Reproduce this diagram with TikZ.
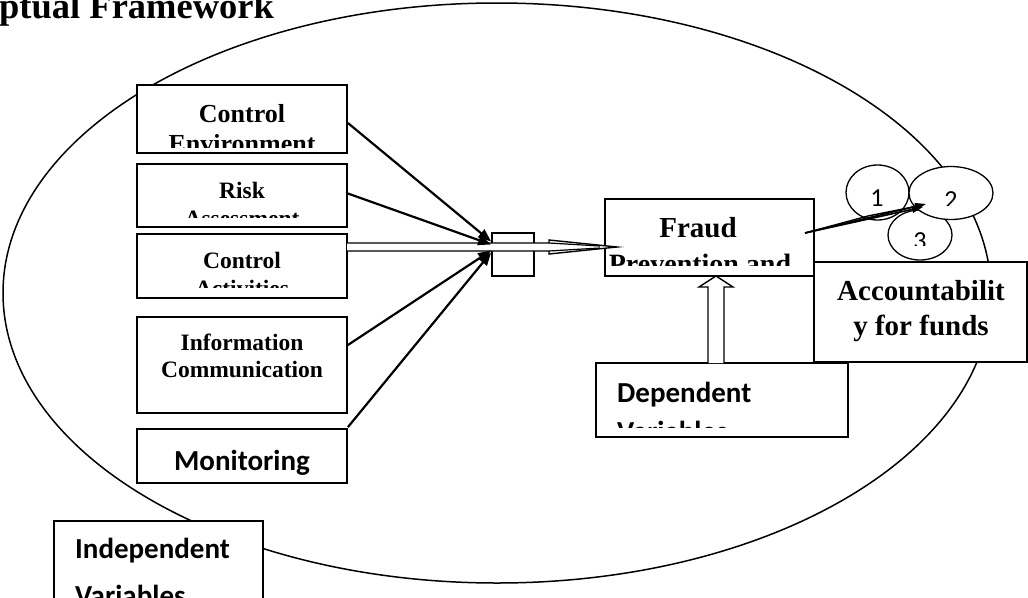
\documentclass[tikz,border=0pt]{standalone}
\usepackage{fontspec}
\setmainfont{Liberation Serif}
\newfontfamily\calfont{Carlito}
\usetikzlibrary{arrows.meta,shapes.geometric}
\newcommand\tfs[1]{\bfseries\fontsize{#1}{#1}\selectfont}
\newcommand\cfs[1]{\calfont\bfseries\fontsize{#1}{#1}\selectfont}
\begin{document}
\begin{tikzpicture}[x=1pt,y=-1pt,
  box/.style={draw,fill=white,line width=1.8pt,inner sep=0pt,rectangle},
  oval/.style={draw,fill=white,line width=1.3pt,ellipse,inner sep=0pt},
  con/.style={line width=2.2pt,-{Triangle[length=13pt,width=10pt]}},
  thin con/.style={line width=1.6pt,-{Triangle[length=11pt,width=7pt]}},
  hollow/.style={draw,fill=white,line width=1.4pt,line join=miter},
  txt/.style={inner sep=0pt,anchor=base},
  digit/.style={inner sep=0pt,anchor=base,font=\calfont\fontsize{26}{26}\selectfont}]
\useasboundingbox (0,0) rectangle (1028,597);

% title
\node[txt,anchor=base west,font=\tfs{36.5}] (title) at (-1,18) {ptual Framework};

% big ellipse
\draw[line width=1.5pt] (497,293) ellipse [x radius=494pt, y radius=290pt];

% boxes
\node[box,minimum width=210pt,minimum height=68pt] (b1) at (242,119) {};
\node[box,minimum width=210pt,minimum height=63pt] (b2) at (242,195.5) {};
\node[box,minimum width=210pt,minimum height=64pt] (b3) at (242,266) {};
\node[box,minimum width=210pt,minimum height=96pt] (b4) at (242,365) {};
\node[box,minimum width=210pt,minimum height=54pt] (b5) at (242,456) {};
\node[box,minimum width=209pt,minimum height=78pt] (ind) at (158.5,560) {};
\node[box,minimum width=42pt,minimum height=43pt] (small) at (513,254.5) {};
\node[box,minimum width=209pt,minimum height=77pt] (fraud) at (709.5,237.5) {};
\node[box,minimum width=213pt,minimum height=100pt] (acc) at (920.5,312) {};
\node[box,minimum width=252pt,minimum height=74pt] (dep) at (722,400) {};

% circles
\node[oval,minimum width=64pt,minimum height=50pt] (c3) at (920,235) {};
\node[oval,minimum width=63pt,minimum height=55pt] (c1) at (877.5,192.5) {};
\node[oval,minimum width=84pt,minimum height=53pt] (c2) at (951,193) {};

% texts
\begin{scope}
  \clip (137,85) rectangle (347,147);
  \node[txt,font=\tfs{26}] (t1a) at (242,122) {Control};
  \node[txt,font=\tfs{26}] (t1b) at (242,152) {Environment};
\end{scope}
\begin{scope}
  \clip (137,164) rectangle (347,217);
  \node[txt,font=\tfs{23.5}] (t2a) at (242,198) {Risk};
  \node[txt,font=\tfs{23.5}] (t2b) at (242,226) {Assessment};
\end{scope}
\begin{scope}
  \clip (137,234) rectangle (347,287);
  \node[txt,font=\tfs{23.5}] (t3a) at (242,268) {Control};
  \node[txt,font=\tfs{23.5}] (t3b) at (242,296) {Activities};
\end{scope}
\node[txt,font=\tfs{23.5}] (t4a) at (242,350) {Information};
\node[txt,font=\tfs{23.5}] (t4b) at (242,377) {Communication};
\node[txt,font=\cfs{29}] (t5) at (242,470) {Monitoring};
\begin{scope}
  \clip (54,521) rectangle (263,597);
  \node[txt,anchor=base west,font=\cfs{29}] (tia) at (75,558) {Independent};
  \node[txt,anchor=base west,font=\cfs{29}] (tib) at (75,605) {Variables};
\end{scope}
\begin{scope}
  \clip (605,199) rectangle (814,265);
  \node[txt,font=\tfs{29}] (tfa) at (698,237) {Fraud};
  \node[txt,font=\tfs{28}] (tfb) at (700,273) {Prevention and};
\end{scope}
\node[txt,font=\tfs{29}] (taa) at (921,300) {Accountabilit};
\node[txt,font=\tfs{29}] (tab) at (921,335) {y for funds};
\begin{scope}
  \clip (596,363) rectangle (848,427);
  \node[txt,anchor=base west,font=\cfs{29}] (tda) at (617,402) {Dependent};
  \node[txt,anchor=base west,font=\cfs{29}] (tdb) at (617,441) {Variables};
\end{scope}
\node[digit] (n1) at (877,206) {1};
\begin{scope}
  \clip (920,180) rectangle (990,205);
  \node[digit] (n2) at (951,208) {2};
\end{scope}
\begin{scope}
  \clip (890,222) rectangle (950,245);
  \node[digit] (n3) at (920,249) {3};
\end{scope}

% hollow arrow to Fraud box
\coordinate (hs) at (347,247);
\coordinate (ht) at (617,247);
\draw[hollow] (347,243) -- (549,243) -- (549,240) -- (ht) -- (549,254) -- (549,251) -- (347,251);
\draw[line width=1.2pt] (549,243) -- (600,246) (549,251) -- (600,248);

% hollow up arrow from dependent
\draw[hollow] (708,363) -- (708,287) -- (699,287) -- (716,276) -- (733,287) -- (724,287) -- (724,363);

% converging arrows
\draw[con] ([yshift=-4pt]b1.east) -- ([yshift=13pt]small.west);
\draw[con] ([yshift=2pt]b2.east) -- ([yshift=10pt]small.west);
\draw[con] ([yshift=20pt]b4.east) -- ([yshift=4pt]small.west);
\draw[con] ([yshift=1pt]b5.north east) -- ([yshift=2pt]small.west);

% arrows to circles
\coordinate (fs) at (805,233);
\draw[thin con] (fs) -- (926,204);
\draw[thin con] (fs) -- (923,207);
\draw[line width=1.4pt] (fs) -- (868,216) -- (918,206);
\end{tikzpicture}
\end{document}
